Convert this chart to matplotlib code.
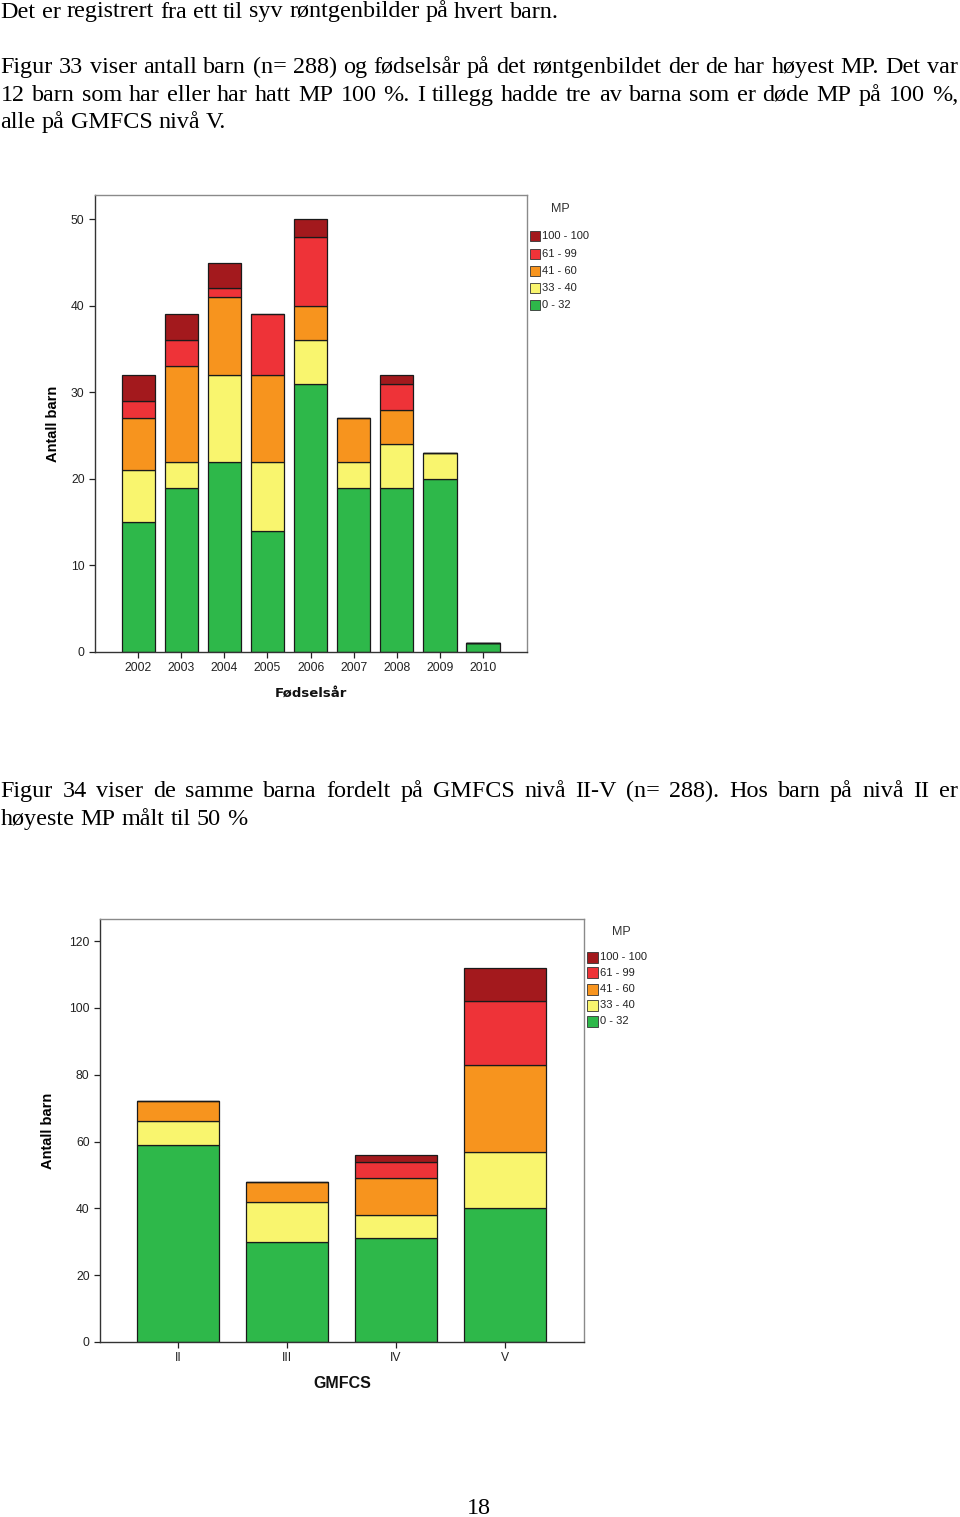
import matplotlib
matplotlib.use('Agg')
import matplotlib.pyplot as plt
from matplotlib.patches import Rectangle
import numpy as np

# Chart 1: number of children by birth year, stacked by MP group
years = ['2002', '2003', '2004', '2005', '2006', '2007', '2008', '2009', '2010']
mp_0_32 = [15, 19, 22, 14, 31, 19, 19, 20, 1]
mp_33_40 = [6, 3, 10, 8, 5, 3, 5, 3, 0]
mp_41_60 = [6, 11, 9, 10, 4, 5, 4, 0, 0]
mp_61_99 = [2, 3, 1, 7, 8, 0, 3, 0, 0]
mp_100 = [3, 3, 3, 0, 2, 0, 1, 0, 0]

# Chart 2: same children by GMFCS level
gmfcs = ['II', 'III', 'IV', 'V']
g_0_32 = [59, 30, 31, 40]
g_33_40 = [7, 12, 7, 17]
g_41_60 = [6, 6, 11, 26]
g_61_99 = [0, 0, 5, 19]
g_100 = [0, 0, 2, 10]

mp_labels = ['0 - 32', '33 - 40', '41 - 60', '61 - 99', '100 - 100']
mp_colors = ['#2eb84a', '#f9f56e', '#f7941e', '#ee3338', '#a3191d']

W, H = 960, 1517
fig = plt.figure(figsize=(W / 100, H / 100), dpi=100)
fig.patch.set_facecolor('white')

SERIF = 'Liberation Serif'
SANS = 'Liberation Sans'
BODY = 17.4


def fx(x):
    return x / W


def fy(y):
    return 1 - y / H


def put_line(line, ybase, justify=False, x0=0.5, x1=958):
    words = [w for w in line.split(' ') if w]
    texts = [fig.text(0, 0, w, fontsize=BODY, family=SERIF, va='baseline', ha='left')
             for w in words]
    r = fig.canvas.get_renderer()
    widths = [t.get_window_extent(r).width for t in texts]
    if justify and len(words) > 1:
        gap = (x1 - x0 - sum(widths)) / (len(words) - 1)
    else:
        gap = 0.25 * BODY * 100 / 72
    x = x0
    for t, w in zip(texts, widths):
        t.set_position((fx(x), fy(ybase)))
        x += w + gap


put_line('Det er registrert fra ett til syv røntgenbilder på hvert barn.', 17.5)
put_line('Figur 33 viser antall barn (n= 288) og fødselsår på det røntgenbildet der de har høyest MP. Det var',
         73, justify=True)
put_line('12 barn som har eller har hatt MP 100 %.  I tillegg hadde tre av barna som er døde MP på 100 %,',
         100.7, justify=True)
put_line('alle på GMFCS nivå V.', 128.4)
put_line('Figur 34 viser de samme barna fordelt på GMFCS nivå II-V (n= 288). Hos barn på nivå II er',
         797, justify=True)
put_line('høyeste MP målt til 50 %', 825)
fig.text(fx(479), fy(1514.5), '18', fontsize=BODY, family=SERIF, ha='center', va='baseline')


def stacked(ax, cats, series, width):
    x = np.arange(len(cats))
    bottom = np.zeros(len(cats))
    for vals, col in zip(series, mp_colors):
        vals = np.array(vals, dtype=float)
        ax.bar(x, vals, width, bottom=bottom, color=col, edgecolor='#1a1a1a', linewidth=0.9)
        bottom += vals
    ax.set_xticks(x)
    ax.set_xticklabels(cats)
    for s in ax.spines.values():
        s.set_color('#8a8a8a')
        s.set_linewidth(1.0)
    ax.spines['left'].set_color('#333333')
    ax.spines['bottom'].set_color('#333333')
    ax.tick_params(axis='both', colors='#222222', labelsize=8.7, length=4, width=0.9)
    for lab in ax.get_xticklabels() + ax.get_yticklabels():
        lab.set_family(SANS)


def legend(x_patch, y_rows, x_mp, y_mp, size):
    fig.text(fx(x_mp), fy(y_mp), 'MP', family=SANS, fontsize=9, color='#333333',
             ha='center', va='center')
    for lab, col, yc in zip(mp_labels[::-1], mp_colors[::-1], y_rows):
        fig.add_artist(Rectangle((fx(x_patch), fy(yc + size / 2)), size / W, size / H,
                                 facecolor=col, edgecolor='#333333', linewidth=0.6,
                                 transform=fig.transFigure))
        fig.text(fx(x_patch + size + 2.5), fy(yc), lab, family=SANS, fontsize=8,
                 color='#222222', ha='left', va='center')


# Chart 1
ax1 = fig.add_axes([fx(95), fy(652), (527 - 95) / W, (652 - 195) / H])
stacked(ax1, years, [mp_0_32, mp_33_40, mp_41_60, mp_61_99, mp_100], 0.77)
ax1.set_xlim(-1.0, 9.02)
ax1.set_ylim(0, 52.8)
ax1.set_yticks([0, 10, 20, 30, 40, 50])
ax1.set_ylabel('Antall barn', family=SANS, fontsize=10.5, fontweight='bold', labelpad=8)
ax1.set_xlabel('Fødselsår', family='DejaVu Sans', fontsize=9.5, fontweight='bold',
               labelpad=9, color='#111111')
legend(530, [236, 254, 271, 288, 305], 560, 209, 10)

# Chart 2
ax2 = fig.add_axes([fx(100), fy(1342), (584 - 100) / W, (1342 - 919) / H])
stacked(ax2, gmfcs, [g_0_32, g_33_40, g_41_60, g_61_99, g_100], 0.75)
ax2.set_xlim(-0.716, 3.725)
ax2.set_ylim(0, 126.6)
ax2.set_yticks([0, 20, 40, 60, 80, 100, 120])
ax2.set_ylabel('Antall barn', family=SANS, fontsize=10.5, fontweight='bold', labelpad=10)
ax2.set_xlabel('GMFCS', family=SANS, fontsize=11.5, fontweight='bold', labelpad=8,
               color='#111111')
legend(587, [957, 973, 989, 1005, 1021], 621, 932, 11)

fig.savefig('out.png', dpi=100)
